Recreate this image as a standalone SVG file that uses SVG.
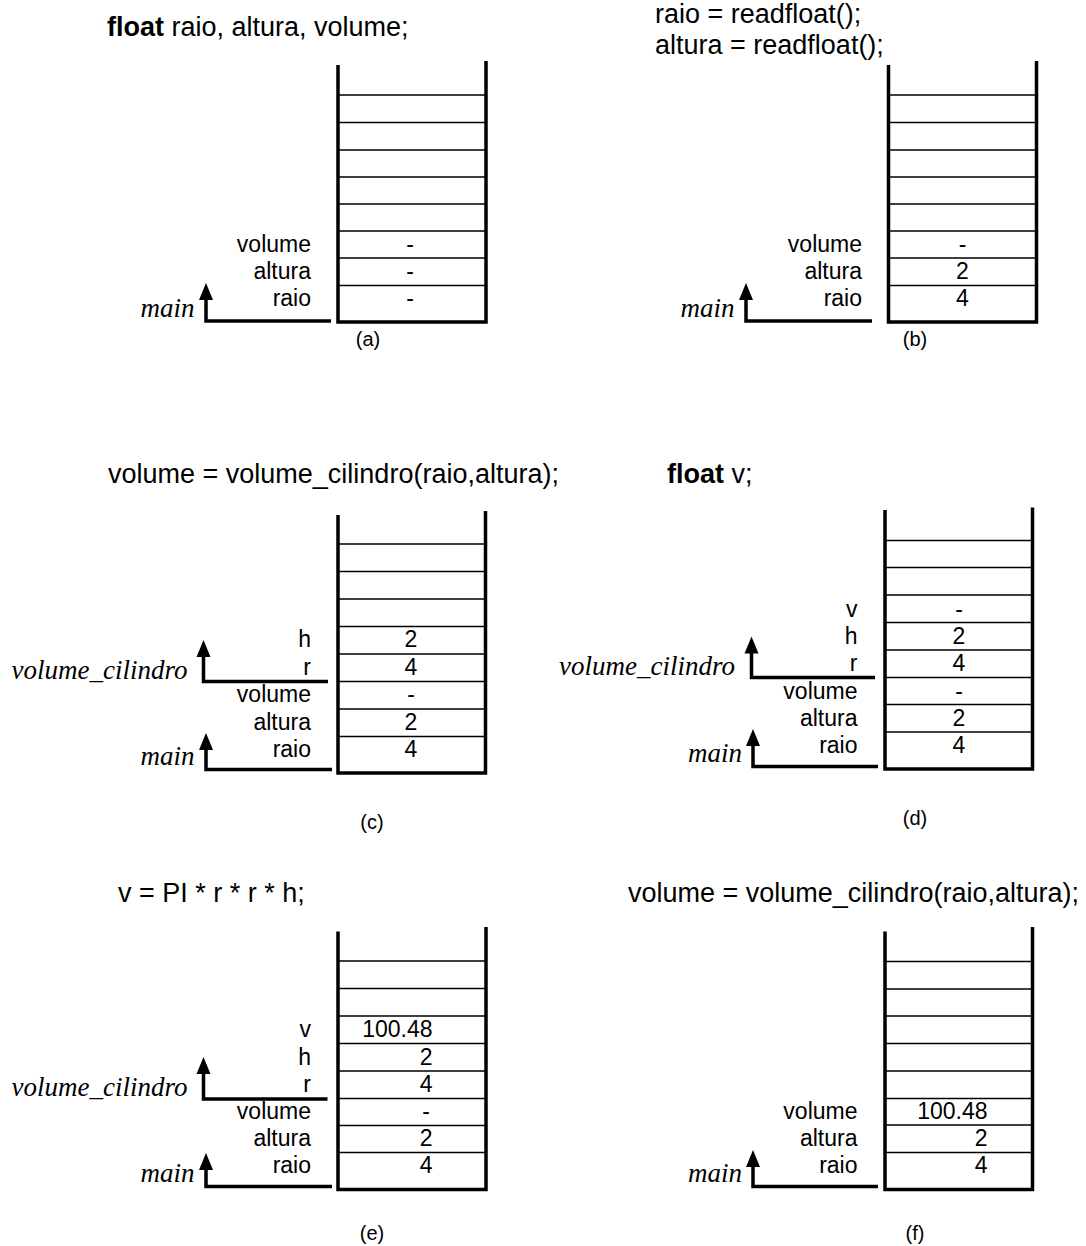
<svg xmlns="http://www.w3.org/2000/svg" width="1086" height="1246" viewBox="0 0 1086 1246">
<style>
.wall{fill:none;stroke:#000;stroke-width:3.5;stroke-linejoin:miter}
.cell{stroke:#000;stroke-width:1.7}
.arr{fill:none;stroke:#000;stroke-width:3.5}
.head{fill:#000}
.t{font-family:"Liberation Sans",Arial,Helvetica,sans-serif;fill:#000}
.lbl{font-size:23px;text-anchor:end}
.val{font-size:23px;text-anchor:middle}
.valr{font-size:23px;text-anchor:end}
.code{font-size:27px}
.b{font-weight:bold}
.fn{font-family:"Liberation Serif","Times New Roman",serif;font-style:italic;font-size:27px;text-anchor:end;fill:#000}
.cap{font-size:20px;text-anchor:middle}
</style>
<rect width="1086" height="1246" fill="#fff"/>

<!-- Panel (a) -->
<g id="panel-a">
  <text class="t code" x="107" y="36"><tspan class="b">float</tspan> raio, altura, volume;</text>
  <g id="stack-a">
    <path class="wall" d="M338,65 V322 H486 V61"/>
    <path class="cell" d="M338,95H486M338,122.5H486M338,150H486M338,177H486M338,204H486M338,231H486M338,258H486M338,285.5H486"/>
  </g>
  <text class="t lbl" x="311" y="252">volume</text>
  <text class="t lbl" x="311" y="279">altura</text>
  <text class="t lbl" x="311" y="306">raio</text>
  <text class="t val" x="410" y="252">-</text>
  <text class="t val" x="410" y="279">-</text>
  <text class="t val" x="410" y="306">-</text>
  <text class="fn" x="194.5" y="317">main</text>
  <text class="t cap" x="368" y="346">(a)</text>
</g>

<!-- Panel (b) -->
<g id="panel-b">
  <text class="t code" x="655" y="23">raio = readfloat();</text>
  <text class="t code" x="655" y="53.5">altura = readfloat();</text>
  <g id="stack-b">
    <path class="wall" d="M888.5,65 V322 H1036.5 V61"/>
    <path class="cell" d="M888.5,95H1036.5M888.5,122.5H1036.5M888.5,150H1036.5M888.5,177H1036.5M888.5,204H1036.5M888.5,231H1036.5M888.5,258H1036.5M888.5,285.5H1036.5"/>
  </g>
  <text class="t lbl" x="862" y="252">volume</text>
  <text class="t lbl" x="862" y="279">altura</text>
  <text class="t lbl" x="862" y="306">raio</text>
  <text class="t val" x="962.5" y="252">-</text>
  <text class="t val" x="962.5" y="279">2</text>
  <text class="t val" x="962.5" y="306">4</text>
  <text class="fn" x="734.5" y="317">main</text>
  <text class="t cap" x="915" y="346">(b)</text>
</g>

<!-- Panel (c) -->
<g id="panel-c">
  <text class="t code" x="108" y="483">volume = volume_cilindro(raio,altura);</text>
  <g id="stack-c">
    <path class="wall" d="M338,515 V773 H485.5 V511"/>
    <path class="cell" d="M338,544H485.5M338,571.5H485.5M338,599H485.5M338,626.5H485.5M338,654H485.5M338,681.5H485.5M338,709H485.5M338,736.5H485.5"/>
  </g>
  <text class="t lbl" x="311" y="647">h</text>
  <text class="t lbl" x="311" y="675">r</text>
  <text class="t lbl" x="311" y="702">volume</text>
  <text class="t lbl" x="311" y="730">altura</text>
  <text class="t lbl" x="311" y="757">raio</text>
  <text class="t val" x="411" y="647">2</text>
  <text class="t val" x="411" y="675">4</text>
  <text class="t val" x="411" y="702">-</text>
  <text class="t val" x="411" y="730">2</text>
  <text class="t val" x="411" y="757">4</text>
  <text class="fn" x="187.5" y="679">volume_cilindro</text>
  <text class="fn" x="194.5" y="765">main</text>
  <text class="t cap" x="372" y="829">(c)</text>
</g>

<!-- Panel (d) -->
<g id="panel-d">
  <text class="t code" x="667" y="483"><tspan class="b">float</tspan> v;</text>
  <g id="stack-d">
    <path class="wall" d="M885,510 V769 H1032.5 V507.5"/>
    <path class="cell" d="M885,540.5H1032.5M885,567.5H1032.5M885,595H1032.5M885,622.5H1032.5M885,650H1032.5M885,677.5H1032.5M885,704.5H1032.5M885,732H1032.5"/>
  </g>
  <text class="t lbl" x="857.5" y="616.5">v</text>
  <text class="t lbl" x="857.5" y="644">h</text>
  <text class="t lbl" x="857.5" y="671">r</text>
  <text class="t lbl" x="857.5" y="698.5">volume</text>
  <text class="t lbl" x="857.5" y="725.5">altura</text>
  <text class="t lbl" x="857.5" y="752.5">raio</text>
  <text class="t val" x="959" y="616.5">-</text>
  <text class="t val" x="959" y="644">2</text>
  <text class="t val" x="959" y="671">4</text>
  <text class="t val" x="959" y="698.5">-</text>
  <text class="t val" x="959" y="725.5">2</text>
  <text class="t val" x="959" y="752.5">4</text>
  <text class="fn" x="735" y="675">volume_cilindro</text>
  <text class="fn" x="742" y="762">main</text>
  <text class="t cap" x="915" y="825">(d)</text>
</g>

<!-- Panel (e) -->
<g id="panel-e">
  <text class="t code" x="118" y="902">v = PI * r * r * h;</text>
  <g id="stack-e">
    <path class="wall" d="M338,931.5 V1189.5 H486 V927"/>
    <path class="cell" d="M338,961H486M338,988.5H486M338,1016H486M338,1043.5H486M338,1071H486M338,1098.5H486M338,1125.5H486M338,1152.5H486"/>
  </g>
  <text class="t lbl" x="311" y="1037">v</text>
  <text class="t lbl" x="311" y="1065">h</text>
  <text class="t lbl" x="311" y="1092">r</text>
  <text class="t lbl" x="311" y="1119">volume</text>
  <text class="t lbl" x="311" y="1146">altura</text>
  <text class="t lbl" x="311" y="1173">raio</text>
  <text class="t valr" x="432.5" y="1037">100.48</text>
  <text class="t valr" x="432.5" y="1065">2</text>
  <text class="t valr" x="432.5" y="1092">4</text>
  <text class="t valr" x="430" y="1119">-</text>
  <text class="t valr" x="432.5" y="1146">2</text>
  <text class="t valr" x="432.5" y="1173">4</text>
  <text class="fn" x="187.5" y="1096">volume_cilindro</text>
  <text class="fn" x="194.5" y="1182">main</text>
  <text class="t cap" x="372" y="1240">(e)</text>
</g>

<!-- Panel (f) -->
<g id="panel-f">
  <text class="t code" x="628" y="902">volume = volume_cilindro(raio,altura);</text>
  <g id="stack-f">
    <path class="wall" d="M885,931.5 V1189.5 H1032.5 V927"/>
    <path class="cell" d="M885,961.5H1032.5M885,989H1032.5M885,1016H1032.5M885,1043.5H1032.5M885,1071H1032.5M885,1098.5H1032.5M885,1125H1032.5M885,1152.5H1032.5"/>
  </g>
  <text class="t lbl" x="857.5" y="1119">volume</text>
  <text class="t lbl" x="857.5" y="1146">altura</text>
  <text class="t lbl" x="857.5" y="1173">raio</text>
  <text class="t valr" x="987.5" y="1119">100.48</text>
  <text class="t valr" x="987.5" y="1146">2</text>
  <text class="t valr" x="987.5" y="1173">4</text>
  <text class="fn" x="742" y="1182">main</text>
  <text class="t cap" x="915" y="1240">(f)</text>
</g>

<!-- Frame arrows -->
<g id="connectors">
  <g id="arrow-a-main"><path class="arr" d="M206,296 V321 H331"/><polygon class="head" points="206,283 199,300 213,300"/></g>
  <g id="arrow-b-main"><path class="arr" d="M746,296 V321 H872"/><polygon class="head" points="746,283 739,300 753,300"/></g>
  <g id="arrow-c-vc"><path class="arr" d="M203.5,653 V681.5 H328"/><polygon class="head" points="203.5,640 196.5,657 210.5,657"/></g>
  <g id="arrow-c-main"><path class="arr" d="M206,746 V769.5 H332"/><polygon class="head" points="206,733 199,750 213,750"/></g>
  <g id="arrow-d-vc"><path class="arr" d="M751.5,649 V677.5 H875"/><polygon class="head" points="751.5,636.5 744.5,653.5 758.5,653.5"/></g>
  <g id="arrow-d-main"><path class="arr" d="M753,742 V766.5 H878"/><polygon class="head" points="753,729 746,746 760,746"/></g>
  <g id="arrow-e-vc"><path class="arr" d="M203.5,1070 V1099 H327.5"/><polygon class="head" points="203.5,1057 196.5,1074 210.5,1074"/></g>
  <g id="arrow-e-main"><path class="arr" d="M206,1166 V1186.5 H332"/><polygon class="head" points="206,1153 199,1170 213,1170"/></g>
  <g id="arrow-f-main"><path class="arr" d="M753,1163 V1186.5 H878"/><polygon class="head" points="753,1150 746,1167 760,1167"/></g>
</g>
</svg>
